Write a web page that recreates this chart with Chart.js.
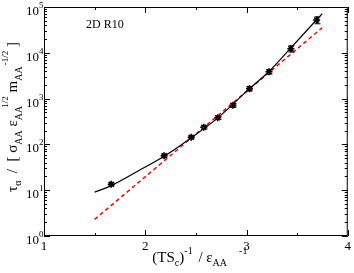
<!DOCTYPE html>
<html>
<head>
	<meta charset="UTF-8">
	<title>2D R10</title>
	<script src="https://cdn.jsdelivr.net/npm/chart.js@4.4.1/dist/chart.umd.min.js"></script>
	<style>
		body {
			margin:0;
			padding:0;
			overflow: hidden;
			background:#fff;
		}
	</style>
</head>
<body>
	<canvas id="chart" width="354" height="273"></canvas>
	<script>
		// measured points (1/T vs tau) with error bars
		const xs = [1.664, 2.186, 2.454, 2.578, 2.716, 2.866, 3.029, 3.222, 3.438, 3.693];
		const ys = [13.5, 56.7, 143, 236, 383, 713, 1645, 3870, 12300, 52000];
		const yErr = [1.0, 4, 10, 18, 30, 60, 170, 420, 1900, 9000];

		// fitted curve (black)
		const fitX = [1.5, 1.664, 1.925, 2.186, 2.454, 2.716, 3.029, 3.222, 3.438, 3.748];
		const fitY = [9.1, 12.6, 26, 55, 140, 380, 1650, 3900, 12800, 72000];

		// arrhenius line (red dashed)
		const arrX = [1.5, 3.748];
		const arrY = [2.3, 35300];

		const xTickLabels = ['1', '2', '3', '4'];
		const yExponents = [0, 1, 2, 3, 4, 5];

		const serif = "'Liberation Serif', 'DejaVu Serif', serif";

		function pts(a, b){ return a.map((v, i) => ({x: v, y: b[i]})); }

		// draws a run of text pieces (normal / sub / sup) from a starting x
		function drawPieces(ctx, pieces, x, y){
			let cx = x;
			pieces.forEach(p => {
				ctx.font = p.size + 'px ' + serif;
				cx += (p.gap || 0);
				ctx.fillText(p.t, cx, y + (p.dy || 0));
				cx += ctx.measureText(p.t).width;
			});
			return cx - x;
		}
		function piecesWidth(ctx, pieces){
			let w = 0;
			pieces.forEach(p => {
				ctx.font = p.size + 'px ' + serif;
				w += (p.gap || 0) + ctx.measureText(p.t).width;
			});
			return w;
		}

		const xTitle = [
			{t: '(TS', size: 15},
			{t: 'c', size: 10, dy: 4},
			{t: ')', size: 15},
			{t: '-1', size: 10, dy: -8},
			{t: ' / ', size: 15, gap: 2},
			{t: 'ε', size: 15},
			{t: 'AA', size: 10, dy: 4},
			{t: '-1', size: 10, dy: -8, gap: 12}
		];
		const yTitle = [
			{t: 'τ', size: 15},
			{t: 'α', size: 10, dy: 4},
			{t: '  /  [ ', size: 15},
			{t: 'σ', size: 15},
			{t: 'AA', size: 10, dy: 5},
			{t: ' ε', size: 15},
			{t: 'AA', size: 10, dy: 5},
			{t: '1/2', size: 9, dy: -9, gap: -2},
			{t: ' m', size: 15},
			{t: 'AA', size: 10, dy: 5},
			{t: '-1/2', size: 9, dy: -9, gap: 1},
			{t: ' ]', size: 15}
		];

		const decor = {
			id: 'decor',
			afterDraw(chart){
				const ctx = chart.ctx;
				const a = chart.chartArea;
				const sx = chart.scales.x, sy = chart.scales.y;
				ctx.save();
				ctx.strokeStyle = '#000';
				ctx.fillStyle = '#000';
				ctx.lineWidth = 1;
				// frame
				ctx.strokeRect(a.left + 0.5, a.top + 0.5, a.right - a.left - 1, a.bottom - a.top - 1);

				// x ticks, inward on bottom and top
				for (let v = 1; v <= 4.001; v += 0.5){
					const px = Math.round(sx.getPixelForValue(v)) + 0.5;
					const len = (Math.abs(v - Math.round(v)) < 1e-6) ? 6 : 3;
					ctx.beginPath();
					ctx.moveTo(px, a.bottom); ctx.lineTo(px, a.bottom - len);
					ctx.moveTo(px, a.top); ctx.lineTo(px, a.top + len);
					ctx.stroke();
				}
				// y ticks (log), inward on left and right
				yExponents.forEach(e => {
					for (let m = 1; m <= 9; m++){
						if (e === 5 && m > 1) break;
						const py = Math.round(sy.getPixelForValue(m * Math.pow(10, e))) + 0.5;
						const len = m === 1 ? 6 : 3;
						ctx.beginPath();
						ctx.moveTo(a.left, py); ctx.lineTo(a.left + len, py);
						ctx.moveTo(a.right, py); ctx.lineTo(a.right - len, py);
						ctx.stroke();
					}
				});

				// y tick labels 10^n
				yExponents.forEach(e => {
					const py = sy.getPixelForValue(Math.pow(10, e));
					ctx.textAlign = 'right';
					ctx.textBaseline = 'alphabetic';
					ctx.font = '13px ' + serif;
					ctx.fillText('10', a.left - 5, py + 8);
					ctx.textAlign = 'left';
					ctx.font = '9px ' + serif;
					ctx.fillText(String(e), a.left - 5, py + 1);
				});

				// error bars
				const ds = chart.getDatasetMeta(2);
				ds.data.forEach((pt, i) => {
					const x = Math.round(pt.x) + 0.5;
					const yHi = sy.getPixelForValue(ys[i] + yErr[i]);
					const yLo = sy.getPixelForValue(ys[i] - yErr[i]);
					ctx.beginPath();
					ctx.moveTo(x, yHi); ctx.lineTo(x, yLo);
					ctx.moveTo(x - 3, yHi); ctx.lineTo(x + 3, yHi);
					ctx.moveTo(x - 3, yLo); ctx.lineTo(x + 3, yLo);
					ctx.stroke();
				});

				// axis titles
				ctx.textAlign = 'left';
				ctx.textBaseline = 'alphabetic';
				const xw = piecesWidth(ctx, xTitle);
				drawPieces(ctx, xTitle, (a.left + a.right) / 2 + 4 - xw / 2, 262);

				ctx.save();
				ctx.translate(17, 117);
				ctx.rotate(-Math.PI / 2);
				const yw = piecesWidth(ctx, yTitle);
				drawPieces(ctx, yTitle, -yw / 2, 0);
				ctx.restore();

				// panel label
				ctx.font = '12px ' + serif;
				ctx.fillText('2D R10', 86, 28);
				ctx.restore();
			}
		};

		const ctx = document.getElementById('chart').getContext('2d');
		const myChart = new Chart(ctx, {
			type: 'scatter',
			data: {
				datasets: [{
					data: pts(fitX, fitY),
					showLine: true,
					borderColor: '#000',
					borderWidth: 1.2,
					pointRadius: 0,
					tension: 0.4
				},
				{
					data: pts(arrX, arrY),
					showLine: true,
					borderColor: '#ff0000',
					borderWidth: 1.5,
					borderDash: [4, 3],
					pointRadius: 0
				},
				{
					data: pts(xs, ys),
					showLine: false,
					pointStyle: 'star',
					pointRadius: 3.5,
					borderWidth: 1.6,
					borderColor: '#000',
					backgroundColor: '#000'
				}]
			},
			options: {
				responsive: false,
				animation: false,
				events: [],
				layout: { padding: { top: 7, right: 4, left: 0, bottom: 0 } },
				plugins: { legend: { display: false }, tooltip: { enabled: false } },
				scales: {
					x: {
						type: 'linear',
						min: 1, max: 4,
						grid: { display: false, drawTicks: false },
						border: { display: false },
						afterFit(s){ s.height = 37; },
						ticks: {
							stepSize: 0.5,
							autoSkip: false,
							maxRotation: 0,
							padding: 3,
							color: '#000',
							font: { family: serif, size: 13 },
							callback: v => (Math.abs(v - Math.round(v)) < 1e-6) ? xTickLabels[Math.round(v) - 1] : ''
						}
					},
					y: {
						type: 'logarithmic',
						min: 1, max: 100000,
						grid: { display: false, drawTicks: false },
						border: { display: false },
						afterFit(s){ s.width = 44; },
						ticks: { display: false }
					}
				}
			},
			plugins: [decor]
		});
	</script>
</body>
</html>
